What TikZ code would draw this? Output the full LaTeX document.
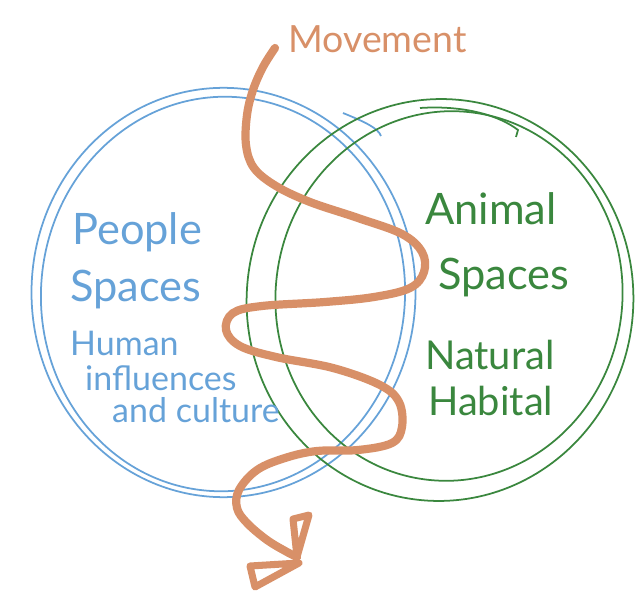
\documentclass[tikz,border=0pt]{standalone}
\usepackage{fontspec}
\setmainfont{Lato}
\definecolor{peopleblue}{RGB}{102,162,216}
\definecolor{animalgreen}{RGB}{58,135,62}
\definecolor{moveorange}{RGB}{216,144,104}

\begin{document}
\begin{tikzpicture}[x=0.03cm,y=-0.03cm,
        people/.style={peopleblue, line width=1.5pt},
        animal/.style={animalgreen, line width=1.5pt},
        move/.style={moveorange, line width=7pt, line cap=round, line join=round},
        big/.style={anchor=base west, inner sep=0pt, font=\fontsize{37}{40}\selectfont},
        small/.style={anchor=base west, inner sep=0pt, font=\fontsize{29}{32}\selectfont}]
        \useasboundingbox (0,0) rectangle (635,593);

        \draw[people] (223.5,292.5) ellipse [x radius=5.76cm, y radius=6.14cm];
        \draw[people, rotate around={-4:(223,294)}] (223,294) ellipse [x radius=5.46cm, y radius=5.92cm];
        \draw[people] (343,113) .. controls (365,122) and (378,128) .. (381,136);

        \draw[animal, rotate around={-5:(440,300)}] (440,300) ellipse [x radius=5.8cm, y radius=6.03cm];
        \draw[animal, rotate around={-8:(449,296)}] (449,296) ellipse [x radius=5.2cm, y radius=5.55cm];
        \draw[animal] (420,108) .. controls (465,105) and (500,116) .. (518,130) -- (516,137);

        \node[big, peopleblue] (people) at (72,245) {People};
        \node[big, peopleblue] (pspaces) at (70,302) {Spaces};
        \node[small, peopleblue] (human) at (70,355) {Human};
        \node[small, peopleblue] (influences) at (85,390) {influences};
        \node[small, peopleblue] (culture) at (112,422) {and culture};

        \node[big, animalgreen] (animal) at (425,225) {Animal};
        \node[big, animalgreen] (aspaces) at (438,290) {Spaces};
        \node[small, animalgreen, font=\fontsize{34}{36}\selectfont] (natural) at (425,370) {Natural};
        \node[small, animalgreen, font=\fontsize{34}{36}\selectfont] (habital) at (428,415) {Habital};

        \node[small, moveorange, font=\fontsize{32}{34}\selectfont] (movement) at (288,53) {Movement};

        \coordinate (start) at (275,48);
        \coordinate (tip) at (297,557);
        \draw[move] plot[smooth, tension=0.6] coordinates {(start) (263,67) (253,90) (247,115)
            (246,145) (254,168) (276,186) (310,202) (358,218) (402,234) (422,252) (424,272)
            (410,288) (374,297) (325,302) (262,306) (233,313) (226,330) (240,346) (276,357)
            (333,368) (380,385) (399,402) (402,427) (392,443) (358,450) (317,451) (285,458)
            (257,470) (239,490) (237,508) (247,523) (267,540) (287,552) (tip)};
        \draw[move, line width=6pt] (293,519) -- (tip) -- (309,515) -- cycle;
        \draw[move, line width=6pt] (299,563) -- (250,566) -- (255,587) -- cycle;
    \end{tikzpicture}
\end{document}
